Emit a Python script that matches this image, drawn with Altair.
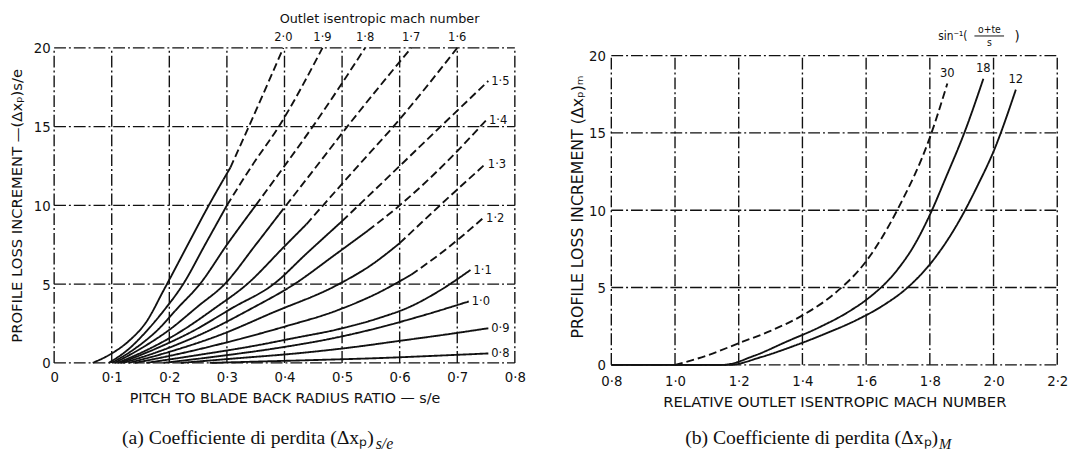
import altair as alt
import pandas as pd

# ---------------- left panel: loss increment against pitch / blade back radius ----------------
MACH_LEFT = ["2·0", "1·9", "1·8", "1·7", "1·6", "1·5", "1·4", "1·3", "1·2", "1·1", "1·0", "0·9", "0·8"]

PITCH_RATIO = {
    "2·0": [0.067, 0.10, 0.13, 0.16, 0.19, 0.232, 0.267, 0.306, 0.338, 0.398],
    "1·9": [0.095, 0.13, 0.16, 0.19, 0.224, 0.262, 0.30, 0.345, 0.39, 0.466],
    "1·8": [0.10, 0.14, 0.18, 0.215, 0.253, 0.30, 0.35, 0.40, 0.449, 0.54],
    "1·7": [0.105, 0.15, 0.20, 0.25, 0.296, 0.35, 0.39, 0.456, 0.509, 0.62],
    "1·6": [0.11, 0.16, 0.22, 0.28, 0.335, 0.40, 0.438, 0.53, 0.589, 0.70],
    "1·5": [0.115, 0.17, 0.24, 0.31, 0.381, 0.44, 0.50, 0.60, 0.671, 0.754],
    "1·4": [0.12, 0.18, 0.26, 0.34, 0.417, 0.489, 0.545, 0.60, 0.68, 0.75],
    "1·3": [0.13, 0.20, 0.29, 0.38, 0.489, 0.55, 0.60, 0.67, 0.748],
    "1·2": [0.14, 0.22, 0.31, 0.40, 0.489, 0.56, 0.62, 0.68, 0.745],
    "1·1": [0.16, 0.25, 0.35, 0.42, 0.489, 0.56, 0.62, 0.67, 0.723],
    "1·0": [0.19, 0.28, 0.38, 0.489, 0.56, 0.63, 0.72],
    "0·9": [0.22, 0.32, 0.42, 0.52, 0.60, 0.68, 0.754],
    "0·8": [0.27, 0.37, 0.47, 0.56, 0.66, 0.754],
}
LOSS_PITCH = {
    "2·0": [0, 0.6, 1.4, 2.6, 4.6, 7.5, 9.9, 12.4, 15.0, 20.0],
    "1·9": [0, 0.9, 2.0, 3.3, 5.0, 7.5, 10.0, 12.6, 15.0, 20.0],
    "1·8": [0, 0.9, 2.1, 3.5, 5.0, 7.5, 10.0, 12.5, 15.0, 20.0],
    "1·7": [0, 0.9, 2.1, 3.6, 5.0, 7.5, 9.4, 12.5, 15.0, 20.0],
    "1·6": [0, 0.8, 2.0, 3.5, 5.0, 7.4, 8.8, 12.6, 15.0, 20.0],
    "1·5": [0, 0.8, 2.0, 3.5, 5.0, 7.0, 9.0, 12.5, 15.0, 17.9],
    "1·4": [0, 0.7, 1.9, 3.4, 5.0, 6.9, 8.4, 10.0, 12.7, 15.4],
    "1·3": [0, 0.7, 1.8, 3.2, 4.9, 6.2, 7.6, 10.0, 12.6],
    "1·2": [0, 0.6, 1.4, 2.3, 3.3, 4.4, 5.6, 7.2, 9.2],
    "1·1": [0, 0.5, 1.1, 1.6, 2.1, 2.8, 3.6, 4.6, 5.9],
    "1·0": [0, 0.4, 0.9, 1.6, 2.2, 2.9, 3.9],
    "0·9": [0, 0.3, 0.6, 1.0, 1.4, 1.8, 2.2],
    "0·8": [0, 0.1, 0.2, 0.3, 0.45, 0.6],
}
# s/e at which each curve turns from drawn (solid) to extrapolated (dashed)
SOLID_UNTIL = {
    "2·0": 0.306, "1·9": 0.30, "1·8": 0.35, "1·7": 0.39, "1·6": 0.438,
    "1·5": 0.50, "1·4": 0.545, "1·3": 0.60, "1·2": 0.62,
    "1·1": 1.0, "1·0": 1.0, "0·9": 1.0, "0·8": 1.0,
}
LEFT_X_GRID = [0.0, 0.1, 0.2, 0.3, 0.4, 0.5, 0.6, 0.7, 0.8]
LEFT_Y_GRID = [0, 5, 10, 15, 20]

# ---------------- right panel: loss increment against outlet Mach number ----------------
ANGLES = ["30", "18", "12"]
MACH_REL = {
    "30": [1.0, 1.1, 1.2, 1.3, 1.4, 1.5, 1.6, 1.7, 1.8, 1.855],
    "18": [0.8, 1.15, 1.25, 1.35, 1.45, 1.55, 1.6, 1.7, 1.75, 1.8, 1.85, 1.91, 1.968],
    "12": [0.8, 1.17, 1.27, 1.37, 1.47, 1.57, 1.65, 1.73, 1.8, 1.85, 1.9, 1.95, 2.0, 2.07],
}
LOSS_MACH = {
    "30": [0, 0.6, 1.4, 2.2, 3.2, 4.6, 6.7, 10.1, 14.7, 18.2],
    "18": [0, 0, 0.6, 1.5, 2.4, 3.5, 4.2, 6.2, 7.7, 9.7, 12.1, 15.1, 18.5],
    "12": [0, 0, 0.5, 1.2, 2.0, 2.9, 3.8, 5.0, 6.5, 7.9, 9.6, 11.6, 13.8, 17.8],
}
ANGLE_STYLE = {"30": "dashed", "18": "solid", "12": "solid"}
RIGHT_X_GRID = [0.8, 1.0, 1.2, 1.4, 1.6, 1.8, 2.0, 2.2]
RIGHT_Y_GRID = [0, 5, 10, 15, 20]

BLACK = "#111111"
FONT = "'DejaVu Sans Condensed', 'DejaVu Sans'"
TITLE_FONT = "DejaVu Sans"
SERIF = "Liberation Serif"
GRID_DASH = [12, 3, 2, 3]

# ---------- tables ----------
rows = []
for name in MACH_LEFT:
    lim = SOLID_UNTIL[name]
    for i, (x, y) in enumerate(zip(PITCH_RATIO[name], LOSS_PITCH[name])):
        if x <= lim + 1e-9:
            rows.append({"curve": name, "part": "solid", "x": x, "y": y, "i": i})
        if x >= lim - 1e-9:
            rows.append({"curve": name, "part": "dashed", "x": x, "y": y, "i": i})
left_df = pd.DataFrame(rows)

left_ends = pd.DataFrame(
    [{"curve": n, "x": PITCH_RATIO[n][-1], "y": LOSS_PITCH[n][-1]} for n in MACH_LEFT]
)
left_top = left_ends[left_ends["y"] >= 20]
left_side = left_ends[left_ends["y"] < 20]

rows = []
for name in ANGLES:
    for i, (x, y) in enumerate(zip(MACH_REL[name], LOSS_MACH[name])):
        rows.append({"curve": name, "part": ANGLE_STYLE[name], "x": x, "y": y, "i": i})
right_df = pd.DataFrame(rows)
right_ends = pd.DataFrame(
    [{"curve": n, "x": MACH_REL[n][-1], "y": LOSS_MACH[n][-1]} for n in ANGLES]
)

dash_scale = alt.Scale(domain=["solid", "dashed"], range=[[1, 0], [8, 4]])
dot_label = "datum.value == 0 ? '0' : replace(format(datum.value, '.1f'), '.', '·')"


def grid_layers(xs, ys, xscale, yscale):
    gx = pd.DataFrame({"g": xs})
    gy = pd.DataFrame({"g": ys})
    vert = alt.Chart(gx).mark_rule(color=BLACK, strokeWidth=1.4, strokeDash=GRID_DASH).encode(
        x=alt.X("g:Q", scale=xscale),
        y=alt.datum(ys[0], scale=yscale),
        y2=alt.datum(ys[-1]),
    )
    horiz = alt.Chart(gy).mark_rule(color=BLACK, strokeWidth=1.4, strokeDash=GRID_DASH).encode(
        y=alt.Y("g:Q", scale=yscale),
        x=alt.datum(xs[0], scale=xscale),
        x2=alt.datum(xs[-1]),
    )
    return vert, horiz


def text_at(txt, x, y, xscale, yscale, size, **kw):
    return alt.Chart(pd.DataFrame({"t": [txt]})).mark_text(
        fontSize=size, color=BLACK, baseline="middle", **kw
    ).encode(x=alt.datum(x, scale=xscale), y=alt.datum(y, scale=yscale), text="t:N")


# ---------- left panel ----------
lx = alt.Scale(domain=[0, 0.8], nice=False, zero=False)
ly = alt.Scale(domain=[0, 20], nice=False)
lv, lh = grid_layers(LEFT_X_GRID, LEFT_Y_GRID, lx, ly)

left_lines = alt.Chart(left_df).mark_line(color=BLACK, strokeWidth=1.9, interpolate="monotone").encode(
    x=alt.X("x:Q", scale=lx,
            axis=alt.Axis(values=LEFT_X_GRID, labelExpr=dot_label, labelPadding=7, labelFlush=False,
                          title="PITCH TO BLADE BACK RADIUS RATIO — s/e", titlePadding=7,
                          titleFontSize=14.5)),
    y=alt.Y("y:Q", scale=ly,
            axis=alt.Axis(values=LEFT_Y_GRID, labelPadding=4,
                          title="PROFILE LOSS INCREMENT —(Δxₚ)s/e", titlePadding=9,
                          titleFontSize=15)),
    detail="curve:N",
    strokeDash=alt.StrokeDash("part:N", scale=dash_scale, legend=None),
    order=alt.Order("i:Q"),
)

top_labels = alt.Chart(left_top).mark_text(
    font=FONT, fontSize=13, color=BLACK, baseline="middle", dy=-11
).encode(x=alt.X("x:Q", scale=lx), y=alt.Y("y:Q", scale=ly), text="curve:N")

side_labels = alt.Chart(left_side).mark_text(
    font=FONT, fontSize=13, color=BLACK, align="left", baseline="middle", dx=3
).encode(x=alt.X("x:Q", scale=lx), y=alt.Y("y:Q", scale=ly), text="curve:N")

left_head = text_at("Outlet isentropic mach number", 0.565, 21.8, lx, ly, 13, font=TITLE_FONT)
left_cap = text_at("(a) Coefficiente di perdita (Δxₚ)", 0.555, -4.75, lx, ly, 20,
                   font=SERIF, align="right")
left_cap_sub = text_at("s/e", 0.555, -4.75, lx, ly, 16, font=SERIF, align="left",
                       fontStyle="italic", dx=2, dy=6)

left = alt.layer(lv, lh, left_lines, top_labels, side_labels, left_head, left_cap, left_cap_sub).properties(
    width=468, height=320
)

# ---------- right panel ----------
rx = alt.Scale(domain=[0.8, 2.2], nice=False, zero=False)
ry = alt.Scale(domain=[0, 20.5], nice=False)
rv, rh = grid_layers(RIGHT_X_GRID, RIGHT_Y_GRID, rx, ry)

right_lines = alt.Chart(right_df).mark_line(color=BLACK, strokeWidth=1.9, interpolate="monotone").encode(
    x=alt.X("x:Q", scale=rx,
            axis=alt.Axis(values=RIGHT_X_GRID, labelExpr=dot_label, labelPadding=9, labelFlush=False,
                          title="RELATIVE OUTLET ISENTROPIC MACH NUMBER", titlePadding=6,
                          titleFontSize=15)),
    y=alt.Y("y:Q", scale=ry,
            axis=alt.Axis(values=RIGHT_Y_GRID, labelPadding=6,
                          title="PROFILE LOSS INCREMENT (Δxₚ)ₘ", titlePadding=3,
                          titleFontSize=16)),
    detail="curve:N",
    strokeDash=alt.StrokeDash("part:N", scale=dash_scale, legend=None),
    order=alt.Order("i:Q"),
)

angle_labels = alt.Chart(right_ends).mark_text(
    font=FONT, fontSize=13, color=BLACK, baseline="middle", dy=-11
).encode(x=alt.X("x:Q", scale=rx), y=alt.Y("y:Q", scale=ry), text="curve:N")

sin_txt = text_at("sin⁻¹(", 1.872, 21.27, rx, ry, 12, font=FONT)
sin_num = text_at("o+te", 1.987, 21.68, rx, ry, 10.5, font=FONT)
sin_den = text_at("s", 1.987, 20.84, rx, ry, 10.5, font=FONT)
sin_bar = alt.Chart(pd.DataFrame({"t": [0]})).mark_rule(color=BLACK, strokeWidth=1).encode(
    x=alt.datum(1.94, scale=rx), x2=alt.datum(2.033), y=alt.datum(21.27, scale=ry)
)
sin_close = text_at(")", 2.074, 21.27, rx, ry, 15, font=FONT)

right_cap = text_at("(b) Coefficiente di perdita (Δxₚ)", 1.826, -4.71, rx, ry, 20,
                    font=SERIF, align="right")
right_cap_sub = text_at("M", 1.826, -4.71, rx, ry, 15, font=SERIF, align="left",
                        fontStyle="italic", dx=1, dy=6)

right = alt.layer(rv, rh, right_lines, angle_labels, sin_txt, sin_num, sin_den, sin_bar, sin_close,
                  right_cap, right_cap_sub).properties(width=453, height=322)

chart = (
    alt.hconcat(left, right, spacing=44)
    .properties(padding={"left": 9, "top": 10, "right": 5, "bottom": 5}, background="white")
    .configure_view(strokeWidth=0)
    .configure_axis(
        grid=False, domain=False, ticks=False,
        labelFont=FONT, labelFontSize=15, labelColor=BLACK,
        titleFont=TITLE_FONT, titleFontWeight="normal", titleColor=BLACK,
    )
)

chart.save("out.html", embed_options={"renderer": "svg", "actions": False})
